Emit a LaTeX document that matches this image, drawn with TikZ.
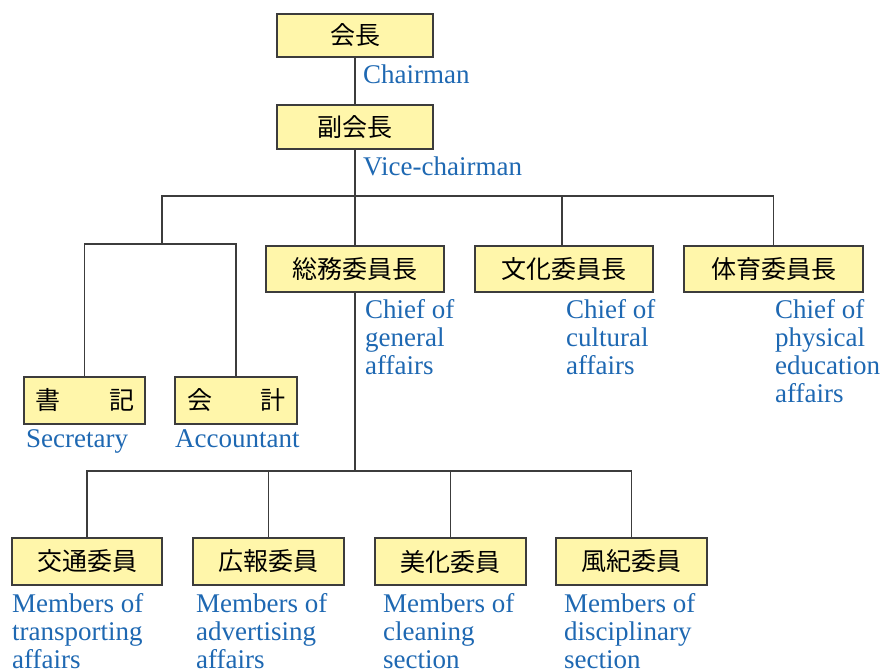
\documentclass[tikz,border=0pt]{standalone}
\usepackage{fontspec}
\setmainfont{Liberation Serif}
\newfontfamily\jp{Noto Sans CJK JP}
\definecolor{boxfill}{RGB}{255,246,170}
\definecolor{boxline}{RGB}{60,60,60}
\definecolor{conn}{RGB}{60,60,60}
\definecolor{lblue}{RGB}{30,104,178}
\tikzset{
  orgbox/.style={draw=boxline, fill=boxfill, line width=1.2pt, inner sep=0pt,
    font=\jp\fontsize{25}{28}\selectfont, text=black},
  engl/.style={anchor=north west, inner sep=0pt, align=left, text=lblue,
    font=\fontsize{27}{28}\selectfont},
  link/.style={draw=conn, line width=1.3pt}
}
\begin{document}
\begin{tikzpicture}[x=1pt,y=-1pt]
\useasboundingbox (0,0) rectangle (885,669);
% boxes
\node[orgbox, minimum width=156pt, minimum height=43pt] (chair) at (355,35.5) {会長};
\node[orgbox, minimum width=156pt, minimum height=44pt] (vice) at (355,127) {副会長};
\node[orgbox, minimum width=178pt, minimum height=46pt] (gen) at (355,269) {総務委員長};
\node[orgbox, minimum width=178pt, minimum height=46pt] (cult) at (564,269) {文化委員長};
\node[orgbox, minimum width=179pt, minimum height=46pt] (phys) at (773.5,269) {体育委員長};
\node[orgbox, minimum width=121pt, minimum height=47pt] (sec) at (84.5,400.5) {\makebox[99pt]{書\hfill 記}};
\node[orgbox, minimum width=122pt, minimum height=47pt] (acc) at (236,400.5) {\makebox[98pt]{会\hfill 計}};
\node[orgbox, minimum width=150pt, minimum height=47pt] (tr) at (87,561.5) {交通委員};
\node[orgbox, minimum width=151pt, minimum height=47pt] (ad) at (268.5,561.5) {広報委員};
\node[orgbox, minimum width=151pt, minimum height=47pt] (cl) at (450.5,561.5) {美化委員};
\node[orgbox, minimum width=151pt, minimum height=47pt] (di) at (631.5,561.5) {風紀委員};
% junctions
\coordinate (j1) at (355,196);
\coordinate (jL) at (162,196);
\coordinate (jR) at (773.5,196);
\coordinate (jC) at (562,196);
\coordinate (jL2) at (162,244);
\coordinate (j2) at (355,471);
% connectors
\draw[link] (chair.south) -- (vice.north);
\draw[link] (vice.south) -- (j1);
\draw[link] (jL2) -- (jL) -- (jR) -- (phys.north);
\draw[link] (jC) -- (jC |- cult.north);
\draw[link] (j1) -- (gen.north);
\draw[link] (sec.north) |- (jL2) -| (acc.north);
\draw[link] (gen.south) -- (j2);
\draw[link] (tr.north) |- (j2) -| (di.north);
\draw[link] (ad.north) -- (ad.north |- j2);
\draw[link] (cl.north) -- (cl.north |- j2);
% labels
\node[engl] (lchair) at (363,64.8) {Chairman};
\node[engl] (lvice) at (363,156.5) {Vice-chairman};
\node[engl] (lgen) at (365,299.5) {Chief of\\general\\affairs};
\node[engl] (lcult) at (566,299.5) {Chief of\\cultural\\affairs};
\node[engl] (lphys) at (775,299.5) {Chief of\\physical\\education\\affairs};
\node[engl] (lsec) at (26,429.8) {Secretary};
\node[engl] (lacc) at (175,429.8) {Accountant};
\node[engl] (ltr) at (12,593.5) {Members of\\transporting\\affairs};
\node[engl] (lad) at (196,593.5) {Members of\\advertising\\affairs};
\node[engl] (lcl) at (383,593.5) {Members of\\cleaning\\section};
\node[engl] (ldi) at (564,593.5) {Members of\\disciplinary\\section};
\end{tikzpicture}
\end{document}
